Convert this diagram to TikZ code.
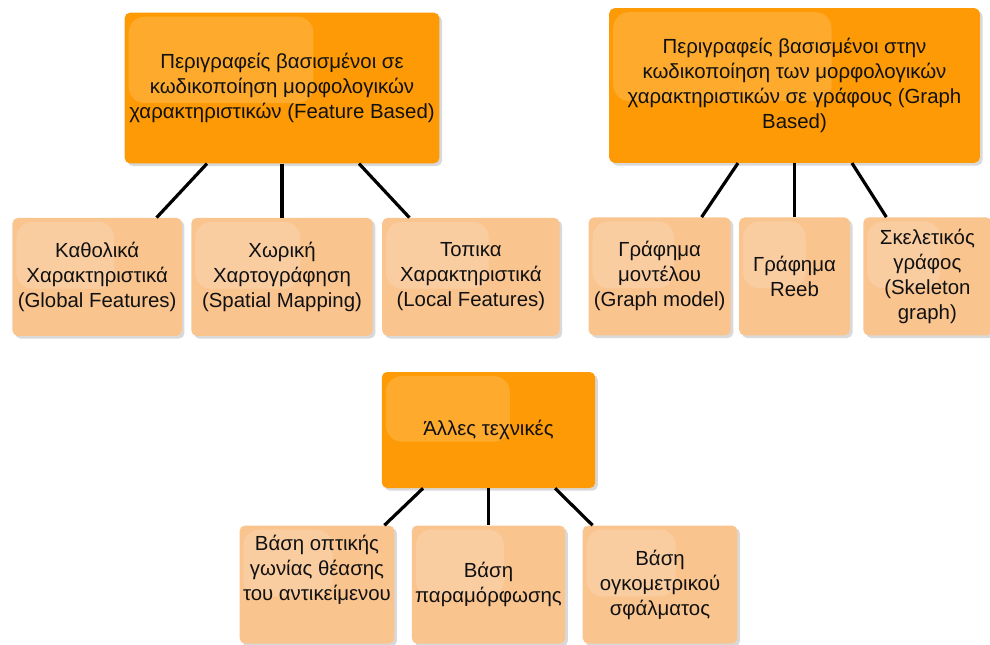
\documentclass[tikz,border=0pt]{standalone}
\usepackage{fontspec}
\setmainfont{Liberation Sans}
\usepackage{xcolor}
\usepackage{tikz}
\usetikzlibrary{positioning,shadows,calc}
\definecolor{TreeOrange}{HTML}{FD9A05}
\definecolor{TreePeach}{HTML}{FAC48F}
\definecolor{TreeDark}{HTML}{111111}
\tikzset{
  gloss/.style={path picture={\fill[white,opacity=0.16,rounded corners=12pt]
      ([shift={(3pt,-3pt)}]path picture bounding box.north west) rectangle
      ($(path picture bounding box.north west)!0.6!(path picture bounding box.south east)$);}},
  topbox/.style={rounded corners=4pt,fill=TreeOrange,align=center,inner sep=2pt,text=TreeDark,
    font=\fontsize{15.3}{18.75}\selectfont,gloss,
    drop shadow={opacity=0.3,shadow xshift=2pt,shadow yshift=-2pt}},
  subbox/.style={rounded corners=4pt,fill=TreePeach,align=center,inner sep=2pt,text=TreeDark,
    minimum height=88.5pt,font=\fontsize{15.3}{18.75}\selectfont,gloss,
    drop shadow={opacity=0.3,shadow xshift=2pt,shadow yshift=-2pt}},
  treelink/.style={line width=2.4pt,draw=black}
}
\begin{document}
\begin{tikzpicture}[x=0.75pt,y=-0.75pt,node distance=40.5pt and 6.75pt]
\useasboundingbox (0,0) rectangle (990,644);
% feature based
\node[topbox,minimum width=236pt,minimum height=113pt] (fb) at (282,88) {Περιγραφείς βασισμένοι σε\\κωδικοποίηση μορφολογικών\\χαρακτηριστικών (Feature Based)};
\node[subbox,minimum width=136pt,below=of fb] (spatial) {Χωρική\\Χαρτογράφηση\\(Spatial Mapping)};
\node[subbox,minimum width=127pt,left=of spatial] (global) {Καθολικά\\Χαρακτηριστικά\\(Global Features)};
\node[subbox,minimum width=133pt,right=of spatial] (local) {Τοπικα\\Χαρακτηριστικά\\(Local Features)};
\draw[treelink] ([xshift=-56.25pt]fb.south) -- ([xshift=44.6pt]global.north);
\draw[treelink] (fb.south) -- (spatial.north);
\draw[treelink] ([xshift=57.75pt]fb.south) -- ([xshift=-46.1pt]local.north);
% graph based
\node[topbox,minimum width=278pt,minimum height=116pt] (gb) at (794.5,85.5) {Περιγραφείς βασισμένοι στην\\κωδικοποίηση των μορφολογικών\\χαρακτηριστικών σε γράφους (Graph\\Based)};
\node[subbox,minimum width=83pt,below=of gb] (reeb) {Γράφημα\\Reeb};
\node[subbox,minimum width=106.5pt,left=6pt of reeb] (model) {Γράφημα\\μοντέλου\\(Graph model)};
\node[subbox,minimum width=96pt,right=9.75pt of reeb] (skel) {Σκελετικός\\γράφος\\(Skeleton\\graph)};
\draw[treelink] ([xshift=-42.4pt]gb.south) -- ([xshift=31.5pt]model.north);
\draw[treelink] (gb.south) -- (reeb.north);
\draw[treelink] ([xshift=43.1pt]gb.south) -- ([xshift=-30.75pt]skel.north);
% other
\node[topbox,minimum width=160pt,minimum height=87pt] (ot) at (488.5,430) {Άλλες τεχνικές};
\node[subbox,minimum width=115pt,below=27.75pt of ot] (distort) {Βάση\\παραμόρφωσης};
\node[subbox,minimum width=116pt,left=12.75pt of distort] (view) {Βάση οπτικής\\γωνίας θέασης\\του αντικείμενου\\\strut};
\node[subbox,minimum width=116pt,right=12.75pt of distort] (volume) {Βάση\\ογκομετρικού\\σφάλματος};
\draw[treelink] ([xshift=-49.1pt]ot.south) -- ([xshift=50.6pt]view.north);
\draw[treelink] (ot.south) -- (distort.north);
\draw[treelink] ([xshift=49.9pt]ot.south) -- ([xshift=-50.6pt]volume.north);
\end{tikzpicture}
\end{document}
